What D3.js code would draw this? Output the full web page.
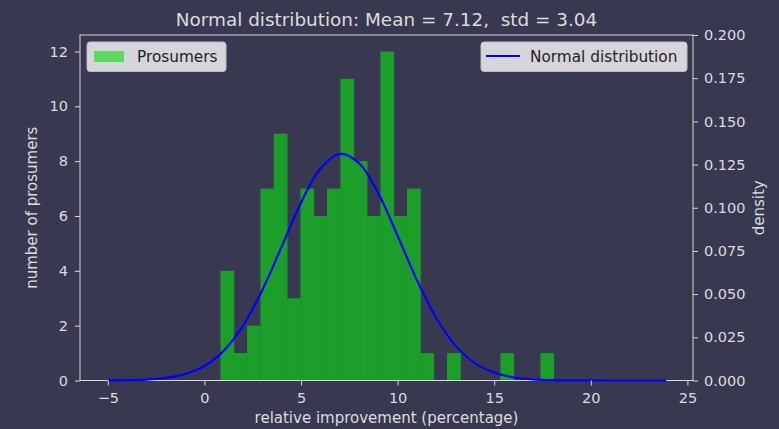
<!DOCTYPE html>
<html>
<head>
<meta charset="utf-8">
<script src="https://cdn.jsdelivr.net/npm/d3@7"></script>
<style>
	body { margin: 0; background: #383950; }
	text { font-family: "DejaVu Sans", sans-serif; }
</style>
</head>
<body>
<script>
// histogram of prosumers, 25 bins starting at 0.83
var binStart = 0.83
var binWidth = 0.69
var counts = [4, 1, 2, 7, 9, 3, 7, 6, 7, 11, 8, 6, 12, 6, 7, 1, 0, 1, 0, 0, 0, 1, 0, 0, 1]

// normal curve
var curveX = [-5, -4, -3, -2, -1, 0, 1, 2, 3, 4, 5, 6, 7, 8, 9, 10, 11, 12, 13, 14, 15, 16, 17, 18, 19, 20, 21, 22, 23, 23.9]
var curveY = [0.00005, 0.00016, 0.0005, 0.0015, 0.0037, 0.0084, 0.0173, 0.0318, 0.0524, 0.0775, 0.1029, 0.1226, 0.1311,
	0.1258, 0.1084, 0.0838, 0.0581, 0.0362, 0.0202, 0.0101, 0.0046, 0.0018, 0.0007, 0.0002, 0.00006, 0.00002, 0, 0, 0, 0]

var xTicks = [-5, 0, 5, 10, 15, 20, 25]
var yTicks = [0, 2, 4, 6, 8, 10, 12]
var y2Ticks = [0, 0.025, 0.05, 0.075, 0.1, 0.125, 0.15, 0.175, 0.2]

var width = 779, height = 429
var margin = {top: 35, right: 86, bottom: 48.5, left: 80}
var textColor = '#dcdcdc'

var svg = d3.select('body').append('svg')
	.attr('width', width)
	.attr('height', height)

svg.append('rect')
	.attr('width', width)
	.attr('height', height)
	.attr('fill', '#383950')

var x = d3.scaleLinear()
	.domain([-6.44, 25.29])
	.range([margin.left, width - margin.right])

var y = d3.scaleLinear()
	.domain([0, 12.6])
	.range([height - margin.bottom, margin.top])

var y2 = d3.scaleLinear()
	.domain([0, 0.2])
	.range([height - margin.bottom, margin.top])

// bars
svg.append('g')
	.selectAll('rect')
	.data(counts)
	.enter()
	.append('rect')
		.attr('x', (d, i) => x(binStart + i * binWidth))
		.attr('width', (d, i) => x(binStart + (i + 1) * binWidth) - x(binStart + i * binWidth) + 0.4)
		.attr('y', d => y(d))
		.attr('height', d => y(0) - y(d))
		.attr('fill', '#1c9e2a')

// frame
svg.append('rect')
	.attr('x', margin.left)
	.attr('y', margin.top)
	.attr('width', width - margin.left - margin.right)
	.attr('height', height - margin.top - margin.bottom)
	.attr('fill', 'none')
	.attr('stroke', '#d8d8d8')
	.attr('stroke-width', 1)

// normal curve (twin axis, drawn above the frame)
var line = d3.line()
	.x((d, i) => x(curveX[i]))
	.y(d => y2(d))
	.curve(d3.curveCatmullRom)

svg.append('path')
	.datum(curveY)
	.attr('d', line)
	.attr('fill', 'none')
	.attr('stroke', '#0000ff')
	.attr('stroke-width', 2.2)

function styleAxis(g) {
	g.select('.domain').remove()
	g.selectAll('line').attr('stroke', '#d8d8d8')
	g.selectAll('text').attr('fill', textColor).style('font-size', '14.5px')
}

svg.append('g')
	.attr('transform', 'translate(0,' + (height - margin.bottom) + ')')
	.call(d3.axisBottom(x).tickValues(xTicks).tickSize(5).tickPadding(7.5).tickFormat(d => d < 0 ? '\u2212' + (-d) : d))
	.call(styleAxis)

svg.append('g')
	.attr('transform', 'translate(' + margin.left + ',0)')
	.call(d3.axisLeft(y).tickValues(yTicks).tickSize(5).tickPadding(7))
	.call(styleAxis)

svg.append('g')
	.attr('transform', 'translate(' + (width - margin.right) + ',0)')
	.call(d3.axisRight(y2).tickValues(y2Ticks).tickSize(5).tickPadding(6))
	.call(g => g.selectAll('text').text(d => d3.format('.3f')(d)))
	.call(styleAxis)

// titles
svg.append('text')
	.attr('x', (margin.left + width - margin.right) / 2)
	.attr('y', 26)
	.attr('text-anchor', 'middle')
	.attr('fill', textColor)
	.style('font-size', '18.4px')
	.style('white-space', 'pre')
	.text('Normal distribution: Mean = 7.12,  std = 3.04')

svg.append('text')
	.attr('x', (margin.left + width - margin.right) / 2)
	.attr('y', 423)
	.attr('text-anchor', 'middle')
	.attr('fill', textColor)
	.style('font-size', '15px')
	.text('relative improvement (percentage)')

svg.append('text')
	.attr('transform', 'translate(37,' + ((margin.top + height - margin.bottom) / 2) + ') rotate(-90)')
	.attr('text-anchor', 'middle')
	.attr('fill', textColor)
	.style('font-size', '15px')
	.text('number of prosumers')

svg.append('text')
	.attr('transform', 'translate(764,' + ((margin.top + height - margin.bottom) / 2) + ') rotate(-90)')
	.attr('text-anchor', 'middle')
	.attr('fill', textColor)
	.style('font-size', '15px')
	.text('density')

// legends
var leg1 = svg.append('g').attr('transform', 'translate(87,42)')
leg1.append('rect')
	.attr('width', 139).attr('height', 29.5).attr('rx', 3)
	.attr('fill', '#d6d6da').attr('stroke', '#bdbdc4')
leg1.append('rect')
	.attr('x', 7).attr('y', 9).attr('width', 30).attr('height', 11)
	.attr('fill', '#5cd95e')
leg1.append('text')
	.attr('x', 50).attr('y', 20)
	.attr('fill', '#222')
	.style('font-size', '15.3px')
	.text('Prosumers')

var leg2 = svg.append('g').attr('transform', 'translate(481,42)')
leg2.append('rect')
	.attr('width', 206).attr('height', 29.5).attr('rx', 3)
	.attr('fill', '#d6d6da').attr('stroke', '#bdbdc4')
leg2.append('line')
	.attr('x1', 5).attr('x2', 39).attr('y1', 14).attr('y2', 14)
	.attr('stroke', '#0000ff').attr('stroke-width', 2.2)
leg2.append('text')
	.attr('x', 49).attr('y', 20)
	.attr('fill', '#222')
	.style('font-size', '15.3px')
	.text('Normal distribution')
</script>
</body>
</html>
